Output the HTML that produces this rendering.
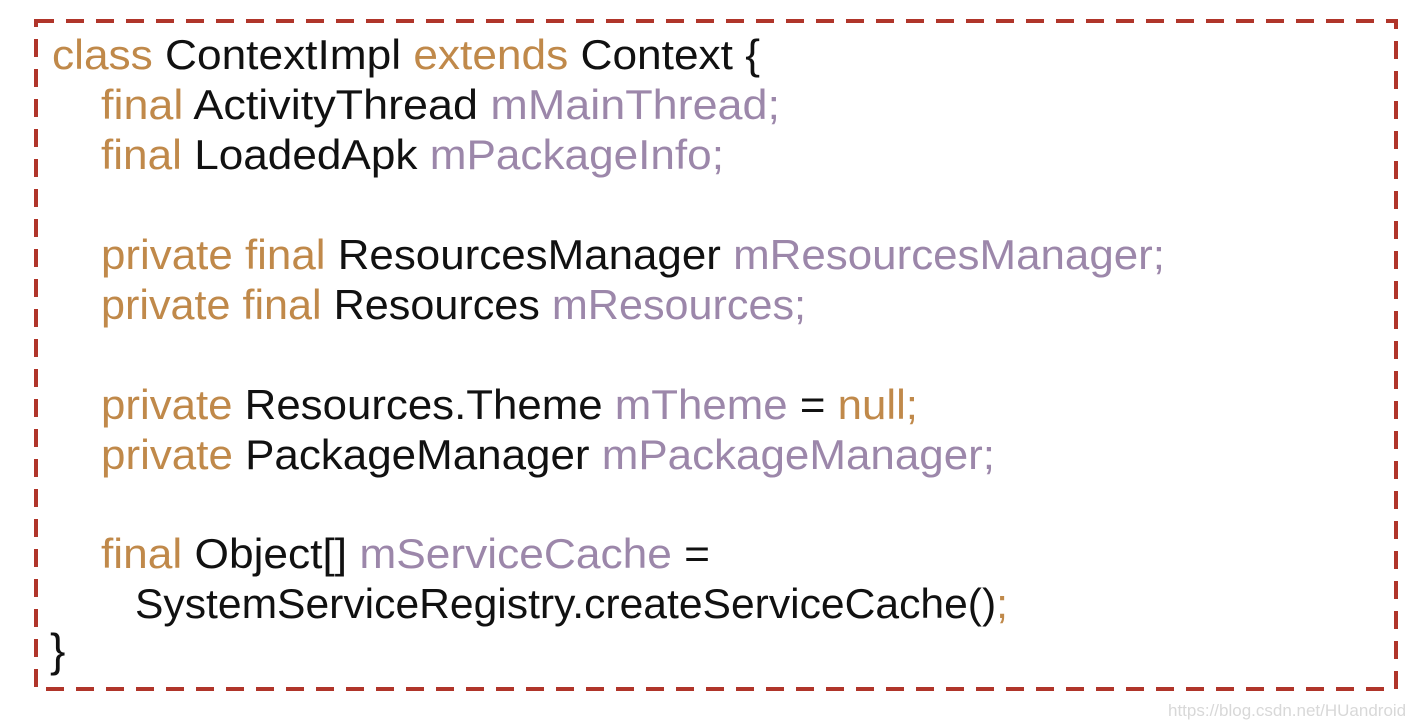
<!DOCTYPE html>
<html><head><meta charset="utf-8"><style>
html,body{margin:0;padding:0;background:#fff;width:1424px;height:722px;overflow:hidden}
svg{display:block}
text{font-family:"Liberation Sans",sans-serif;font-size:42px;fill:#111}
.k{fill:#c0894a}.v{fill:#9c87aa}
</style></head><body>
<svg width="1424" height="722" viewBox="0 0 1424 722">
<rect x="36" y="21" width="1360" height="668" fill="none" stroke="#b0352a" stroke-width="4" stroke-dasharray="18 12"/>
<text x="52" y="69" textLength="708" lengthAdjust="spacingAndGlyphs"><tspan class="k">class</tspan> ContextImpl <tspan class="k">extends</tspan> Context {</text>
<text x="101" y="119" textLength="679" lengthAdjust="spacingAndGlyphs"><tspan class="k">final</tspan> ActivityThread <tspan class="v">mMainThread;</tspan></text>
<text x="101" y="169" textLength="623" lengthAdjust="spacingAndGlyphs"><tspan class="k">final</tspan> LoadedApk <tspan class="v">mPackageInfo;</tspan></text>
<text x="101" y="269" textLength="1064" lengthAdjust="spacingAndGlyphs"><tspan class="k">private final</tspan> ResourcesManager <tspan class="v">mResourcesManager;</tspan></text>
<text x="101" y="319" textLength="705" lengthAdjust="spacingAndGlyphs"><tspan class="k">private final</tspan> Resources <tspan class="v">mResources;</tspan></text>
<text x="101" y="419" textLength="817" lengthAdjust="spacingAndGlyphs"><tspan class="k">private</tspan> Resources.Theme <tspan class="v">mTheme</tspan> = <tspan class="k">null;</tspan></text>
<text x="101" y="469" textLength="894" lengthAdjust="spacingAndGlyphs"><tspan class="k">private</tspan> PackageManager <tspan class="v">mPackageManager;</tspan></text>
<text x="101" y="568" textLength="609" lengthAdjust="spacingAndGlyphs"><tspan class="k">final</tspan> Object[] <tspan class="v">mServiceCache</tspan> =</text>
<text x="135" y="618" textLength="873" lengthAdjust="spacingAndGlyphs">SystemServiceRegistry.createServiceCache()<tspan class="k">;</tspan></text>
<text x="50" y="666" style="font-size:46px">}</text>
<text x="1168" y="716" style="font-size:17px;fill:#d8d8d8">https://blog.csdn.net/HUandroid</text>
</svg>
</body></html>
